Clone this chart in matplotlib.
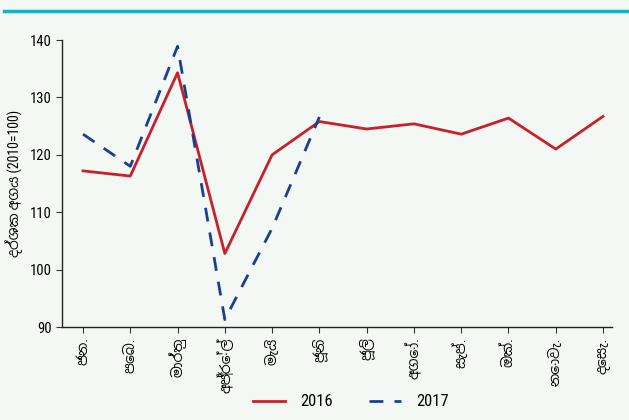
import matplotlib
matplotlib.use('Agg')
import matplotlib.pyplot as plt
from matplotlib.lines import Line2D

months = ['ජන.', 'පෙබ.', 'මාර්තු', 'අප්‍රේල්', 'මැයි', 'ජූනි', 'ජූලි', 'අගෝ.', 'සැප්.', 'ඔක්.', 'නොවැ.', 'දෙසැ.']
vals_2016 = [117.2, 116.3, 134.3, 102.8, 120.0, 125.8, 124.5, 125.4, 123.6, 126.4, 121.0, 126.7]
vals_2017 = [123.6, 118.0, 138.9, 91.3, 107.2, 126.6]
ylabel = 'දර්ශක අගය (2010=100)'

bg = '#f4f8f5'
plt.rcParams['font.family'] = ['Roboto Condensed', 'Liberation Sans Narrow', 'Noto Sans Sinhala', 'DejaVu Sans']

fig = plt.figure(figsize=(6.29, 4.2), dpi=100, facecolor=bg)
ax = fig.add_axes([0.0986, 0.2214, 0.8744, 0.6833], facecolor=bg)

# teal band at top
fig.add_artist(Line2D([0.006, 1.0], [0.975, 0.975], transform=fig.transFigure,
                      color='#12b2c4', linewidth=2.5))

x = list(range(len(months)))
ax.plot(x, vals_2016, color='#c8202a', linewidth=2, label='2016')
ax.plot(x[:len(vals_2017)], vals_2017, color='#1b3f8f', linewidth=2,
        linestyle=(0, (5, 4)), label='2017')

ax.set_ylim(90, 140)
ax.set_xlim(-0.444, 11.19)
ax.set_yticks([90, 100, 110, 120, 130, 140])
ax.set_xticks(x)
ax.set_xticklabels(months, rotation=90, fontsize=10)
ax.tick_params(axis='y', labelsize=10.5, direction='out', length=4, color='#333333')
ax.tick_params(axis='x', direction='out', length=4, color='#333333')
ax.set_ylabel(ylabel, fontsize=10, labelpad=5)

for s in ['top', 'right']:
    ax.spines[s].set_visible(False)
for s in ['left', 'bottom']:
    ax.spines[s].set_color('#222222')
    ax.spines[s].set_linewidth(1)

leg = fig.legend(loc='center', bbox_to_anchor=(0.558, 0.043), ncol=2, frameon=False,
                 fontsize=12, handlelength=1.9, handletextpad=0.9, columnspacing=2.2)

fig.savefig('out.png', dpi=100, facecolor=bg)
